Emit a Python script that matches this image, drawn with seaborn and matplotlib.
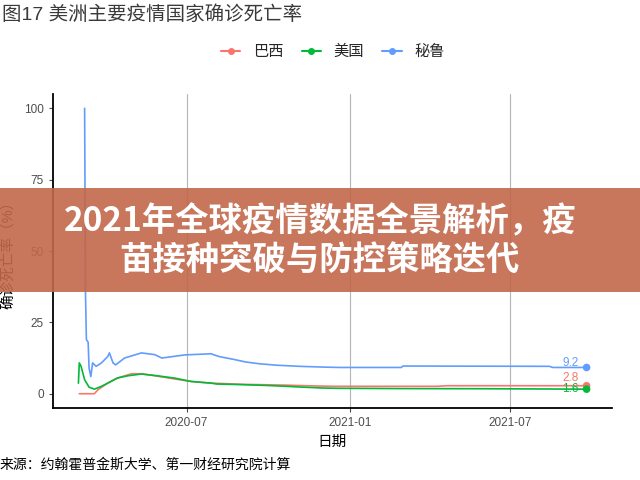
import numpy as np
import pandas as pd
import matplotlib
matplotlib.use("Agg")
import matplotlib.pyplot as plt
import matplotlib.dates as mdates
from matplotlib.lines import Line2D
from matplotlib.patches import Rectangle
import seaborn as sns

# ---------------- data ----------------
countries = ["巴西", "美国", "秘鲁"]
colors = ["#F8766D", "#00BA38", "#619CFF"]

brazil_dates = ["2020-03-02", "2020-03-19", "2020-03-23", "2020-04-03", "2020-04-14",
                "2020-04-30", "2020-05-11", "2020-05-26", "2020-06-17", "2020-07-06",
                "2020-07-29", "2020-08-07", "2020-09-02", "2020-10-22", "2020-11-13",
                "2020-12-13", "2021-04-10", "2021-04-20", "2021-09-25"]
brazil_vals = [0, 0, 1.4, 3.7, 5.5,
               7.0, 7.0, 6.3, 5.2, 4.3,
               3.7, 3.6, 3.3, 3.0, 2.8,
               2.6, 2.6, 2.8, 2.8]

us_dates = ["2020-03-01", "2020-03-02", "2020-03-04", "2020-03-08", "2020-03-13",
            "2020-03-19", "2020-03-27", "2020-04-03", "2020-04-14", "2020-04-26",
            "2020-05-11", "2020-05-26", "2020-06-17", "2020-07-06", "2020-07-29",
            "2020-08-04", "2020-08-30", "2020-09-29", "2020-10-21", "2020-11-09",
            "2020-12-02", "2020-12-17", "2021-03-01", "2021-06-01", "2021-09-25"]
us_vals = [3.7, 10.8, 9.6, 4.9, 2.3,
           1.6, 2.6, 3.7, 5.5, 6.3,
           6.9, 6.4, 5.5, 4.3, 3.7,
           3.4, 3.2, 2.9, 2.6, 2.3,
           2.0, 1.9, 1.8, 1.75, 1.6]

peru_dates = ["2020-03-08", "2020-03-09", "2020-03-10", "2020-03-12", "2020-03-13",
              "2020-03-15", "2020-03-17", "2020-03-21", "2020-03-27", "2020-04-03",
              "2020-04-05", "2020-04-09", "2020-04-12", "2020-04-22", "2020-05-11",
              "2020-05-26", "2020-06-03", "2020-06-29", "2020-07-29", "2020-07-31",
              "2020-08-07", "2020-08-22", "2020-09-06", "2020-09-21", "2020-10-10",
              "2020-11-05", "2020-12-06", "2020-12-21", "2021-02-28", "2021-03-02",
              "2021-08-14", "2021-08-18", "2021-09-25"]
peru_vals = [100, 35, 19, 18, 9,
             6, 10.8, 9.6, 10.8, 13,
             14.3, 10.8, 10.1, 12.5, 14.3,
             13.7, 12.5, 13.6, 14, 13.7,
             13.0, 12.1, 11.1, 10.5, 10.0,
             9.6, 9.3, 9.2, 9.2, 9.7,
             9.6, 9.2, 9.2]

end_labels = ["2.8", "1.6", "9.2"]

x_ticks = ["2020-07-01", "2021-01-01", "2021-07-01"]
x_tick_labels = ["2020-07", "2021-01", "2021-07"]
y_ticks = [0, 25, 50, 75, 100]

title = "图17 美洲主要疫情国家确诊死亡率"
x_label = "日期"
y_label = "确诊死亡率（%）"
source = "来源：约翰霍普金斯大学、第一财经研究院计算"
banner = "2021年全球疫情数据全景解析，疫\n苗接种突破与防控策略迭代"

# ---------------- build frame ----------------
frames = []
for name, d, v in zip(countries, [brazil_dates, us_dates, peru_dates],
                      [brazil_vals, us_vals, peru_vals]):
    frames.append(pd.DataFrame({"date": pd.to_datetime(d), "rate": v, "country": name}))
df = pd.concat(frames, ignore_index=True)

# ---------------- style ----------------
sns.set_theme(style="white")
plt.rcParams["font.family"] = ["Liberation Sans", "Noto Sans CJK SC", "DejaVu Sans"]

fig = plt.figure(figsize=(6.4, 4.8), dpi=100)
ax = fig.add_axes([53 / 640, 1 - 408 / 480, (612 - 53) / 640, (408 - 94) / 480])

palette = dict(zip(countries, colors))
sns.lineplot(data=df, x="date", y="rate", hue="country", palette=palette,
             hue_order=countries, linewidth=1.2, legend=False, ax=ax, zorder=3)

# end points and labels
last = df.sort_values("date").groupby("country").tail(1).set_index("country")
ends = pd.DataFrame({"date": [last.loc[c, "date"] for c in countries],
                     "rate": [last.loc[c, "rate"] for c in countries],
                     "country": countries})
sns.scatterplot(data=ends, x="date", y="rate", hue="country", palette=palette,
                hue_order=countries, s=30, edgecolor="none", legend=False, ax=ax, zorder=4)
label_offsets = {"巴西": (-16, 8), "美国": (-16, 0), "秘鲁": (-16, 4)}
for c, lab in zip(countries, end_labels):
    ax.annotate(lab, (last.loc[c, "date"], last.loc[c, "rate"]),
                xytext=label_offsets[c], textcoords="offset pixels",
                ha="center", va="center", fontsize=8.5, color=palette[c], zorder=5)

# axes limits (5% expansion like the reference)
dmin, dmax = df["date"].min(), df["date"].max()
span = dmax - dmin
ax.set_xlim(dmin - span * 0.05, dmax + span * 0.05)
ax.set_ylim(-5, 105)

ax.set_xticks(pd.to_datetime(x_ticks))
ax.set_xticklabels(x_tick_labels)
ax.set_yticks(y_ticks)
ax.tick_params(axis="both", labelsize=8.5, colors="#4D4D4D", length=3, width=0.8,
               direction="out", bottom=True, left=True)
ax.grid(axis="x", color="#B5B5B5", linewidth=0.8)
ax.grid(axis="y", visible=False)
for s in ["top", "right"]:
    ax.spines[s].set_visible(False)
for s in ["left", "bottom"]:
    ax.spines[s].set_color("black")
    ax.spines[s].set_linewidth(1.3)

ax.set_xlabel(x_label, fontsize=10.5, color="black", labelpad=4)
ax.set_ylabel(y_label, fontsize=10.5, color="black", labelpad=6)

# title, legend, source
fig.text(0.003, 1 - 15 / 480, title, fontsize=14, color="#3A3A3A", ha="left", va="center")
handles = [Line2D([0], [0], color=c, marker="o", markersize=4, linewidth=1.5) for c in colors]
fig.legend(handles, countries, loc="center", bbox_to_anchor=(0.52, 1 - 52 / 480),
           ncol=3, frameon=False, fontsize=11, handlelength=1.3, columnspacing=1.2,
           handletextpad=0.8)
fig.text(0.0, 1 - 465 / 480, source, fontsize=10, color="black", ha="left", va="center")

# overlay banner
fig.patches.append(Rectangle((0, 1 - 292 / 480), 1, 104 / 480, transform=fig.transFigure,
                             facecolor="#C2674A", alpha=0.9, edgecolor="none", zorder=10))
fig.text(0.5, 1 - 241 / 480, banner, fontsize=24, fontweight="heavy", color="white",
         family=["Noto Sans CJK SC", "DejaVu Sans"],
         ha="center", va="center", linespacing=1.25, zorder=11)

fig.savefig("out.png", dpi=100)
